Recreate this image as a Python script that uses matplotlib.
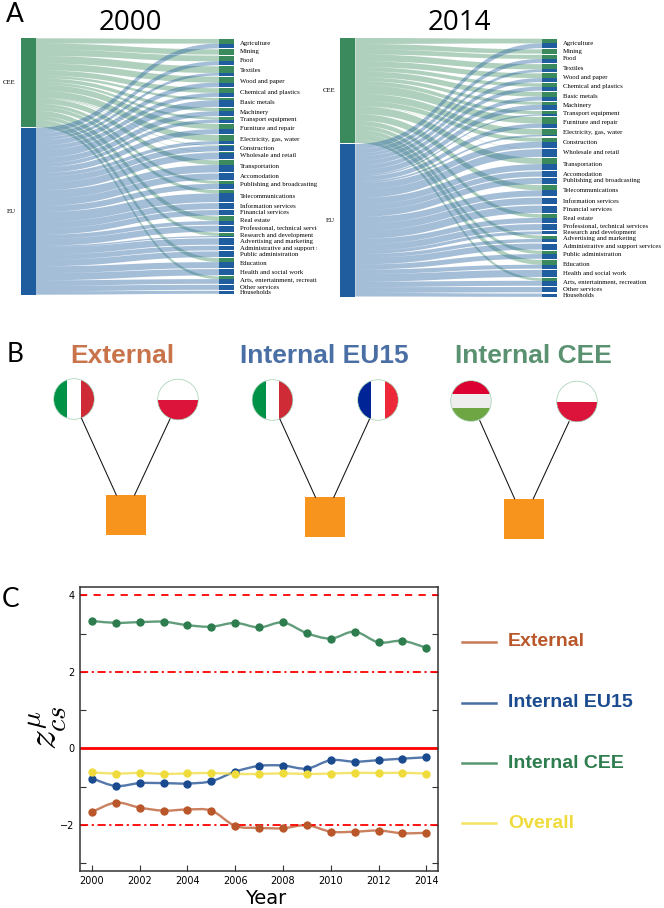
import numpy as np
import matplotlib
matplotlib.use('Agg')
import matplotlib.pyplot as plt
from matplotlib.patches import Rectangle, Ellipse, PathPatch
from matplotlib.path import Path
from matplotlib.transforms import Bbox, TransformedBbox

plt.rcParams['mathtext.fontset'] = 'cm'

sectors = ['Agriculture', 'Mining', 'Food', 'Textiles', 'Wood and paper', 'Chemical and plastics',
           'Basic metals', 'Machinery', 'Transport equipment', 'Furniture and repair',
           'Electricity, gas, water', 'Construction', 'Wholesale and retail', 'Transportation',
           'Accomodation', 'Publishing and broadcasting', 'Telecommunications', 'Information services',
           'Financial services', 'Real estate', 'Professional, technical services',
           'Research and development', 'Advertising and marketing', 'Administrative and support services',
           'Public administration', 'Education', 'Health and social work',
           'Arts, entertainment, recreation', 'Other services', 'Households']
cee_2000 = [4.6, 5.3, 5.7, 6.7, 6.0, 4.7, 2.3, 3.3, 2.3, 5.3, 6.0, 0.6, 0.4, 4.6, 0, 3.0, 3.3, 0, 0, 4.6,
            0, 3.3, 0, 0, 0, 4.0, 0, 2.7, 0, 0]
eu_2000 = [4.7, 0, 4.0, 2.6, 4.6, 4.0, 6.7, 5.0, 3.3, 5.0, 3.3, 5.4, 6.6, 7.4, 6.4, 5.3, 8.7, 6.0, 5.3, 3.7,
           6.0, 1.3, 6.4, 4.7, 5.7, 6.0, 6.3, 4.7, 5.0, 3.0]
cee_2014 = [4.7, 4.3, 4.0, 5.3, 4.7, 3.3, 4.7, 3.0, 3.3, 6.7, 5.7, 4.0, 0.3, 6.0, 0, 0, 5.3, 0, 0, 3.7,
            0, 0, 3.3, 0, 3.3, 4.7, 0, 2.6, 0, 0]
eu_2014 = [4.7, 0, 4.0, 2.7, 4.0, 4.0, 4.0, 5.0, 1.3, 4.3, 1.7, 6.0, 7.6, 6.0, 5.3, 6.0, 6.0, 6.7, 7.3, 5.0,
           6.0, 3.0, 3.4, 6.0, 4.7, 4.0, 7.0, 5.0, 5.3, 3.3]
nodes_2000 = [89, 167]
nodes_2014 = [105, 152.5]

years = list(range(2000, 2015))
z_external = [-1.66, -1.42, -1.55, -1.63, -1.60, -1.63, -2.03, -2.08, -2.09, -2.01, -2.18, -2.18, -2.15, -2.22, -2.21]
z_eu15 = [-0.79, -0.985, -0.91, -0.91, -0.92, -0.86, -0.61, -0.46, -0.45, -0.53, -0.31, -0.35, -0.31, -0.27, -0.235]
z_cee = [3.33, 3.28, 3.30, 3.31, 3.22, 3.18, 3.28, 3.16, 3.29, 3.01, 2.87, 3.05, 2.77, 2.81, 2.63]
z_overall = [-0.63, -0.66, -0.645, -0.67, -0.655, -0.645, -0.67, -0.67, -0.655, -0.67, -0.66, -0.64, -0.645, -0.64, -0.66]

GREEN = '#3a8a5d'
BLUE = '#1f5d9f'
W, H = 664, 908
fig = plt.figure(figsize=(W / 100, H / 100), dpi=100)
ov = fig.add_axes([0, 0, 1, 1])
ov.set_xlim(0, W)
ov.set_ylim(H, 0)
ov.axis('off')


def ribbons(x0, x1, bands, color):
    # one compound path per colour, so that neighbouring ribbons leave no seam
    s = np.linspace(0, 1, 70)
    xm = (x0 + x1) / 2
    b = lambda a, c: (1-s)**3*a + 3*(1-s)**2*s*a + 3*(1-s)*s**2*c + s**3*c
    x = (1-s)**3*x0 + 3*(1-s)**2*s*xm + 3*(1-s)*s**2*xm + s**3*x1
    verts, codes = [], []
    for top0, bot0, top1, bot1 in bands:
        xx = np.r_[x, x[::-1], x[0]]
        yy = np.r_[b(top0, top1), b(bot0, bot1)[::-1], top0]
        verts.append(np.column_stack([xx, yy]))
        codes += [Path.MOVETO] + [Path.LINETO] * (len(xx) - 2) + [Path.CLOSEPOLY]
    ov.add_patch(PathPatch(Path(np.vstack(verts), codes), fc=color, alpha=0.4, lw=0))


def sankey(cee, eu, nodes, xl, xr, top, gap, node_gap, clip_x=None):
    nw = 15
    cee, eu = np.array(cee, float), np.array(eu, float)
    sc, se = nodes[0] / cee.sum(), nodes[1] / eu.sum()
    y0c, y0e = top, top + nodes[0] + node_gap
    ov.add_patch(Rectangle((xl, y0c), nw, nodes[0], fc=GREEN, lw=0))
    ov.add_patch(Rectangle((xl, y0e), nw, nodes[1], fc=BLUE, lw=0))
    ov.text(xl - 5, y0c + nodes[0] / 2, 'CEE', ha='right', va='center', family='Liberation Serif', fontsize=4.9)
    ov.text(xl - 5, y0e + nodes[1] / 2, 'EU', ha='right', va='center', family='Liberation Serif', fontsize=4.9)
    y = top + 0.7
    rows = []
    for c, e in zip(cee, eu):
        rows.append((y, c, e))
        y += c + e + gap
    # green ribbons go under the blue ones
    bands, ly = [], y0c
    for yy, c, e in rows:
        if c > 0:
            bands.append((ly, ly + c * sc, yy, yy + c))
            ly += c * sc
    ribbons(xl + nw, xr, bands, GREEN)
    bands, ly = [], y0e
    for yy, c, e in rows:
        if e > 0:
            bands.append((ly, ly + e * se, yy + c, yy + c + e))
            ly += e * se
    ribbons(xl + nw, xr, bands, BLUE)
    for (yy, c, e), name in zip(rows, sectors):
        ov.add_patch(Rectangle((xr, yy), nw, c, fc=GREEN, lw=0))
        ov.add_patch(Rectangle((xr, yy + c), nw, e, fc=BLUE, lw=0))
        t = ov.text(xr + 21, yy + (c + e) / 2, name, va='center', family='Liberation Serif', fontsize=4.9)
        if clip_x:
            t.set_clip_box(TransformedBbox(Bbox([[xr, 0], [clip_x, H]]), ov.transData))
            t.set_clip_on(True)


sankey(cee_2000, eu_2000, nodes_2000, 20.5, 219, 38.3, 1.0, 0.4, clip_x=317)
sankey(cee_2014, eu_2014, nodes_2014, 340.3, 542, 38, 1.24, 1.0)

ov.text(130, 23, '2000', ha='center', va='center', family='Open Sans', fontsize=20)
ov.text(459, 23, '2014', ha='center', va='center', family='Open Sans', fontsize=20)
ov.text(15, 14.5, 'A', ha='center', va='center', family='Lato', fontsize=19)
ov.text(15, 355, 'B', ha='center', va='center', family='Lato', fontsize=19)
ov.text(10.5, 599.5, 'C', ha='center', va='center', family='Lato', fontsize=19)

# panel B
ITALY = ['v', '#009246', '#ffffff', '#ce2b37']
POLAND = ['h', '#ffffff', '#dc143c']
FRANCE = ['v', '#002395', '#ffffff', '#ed2939']
HUNGARY = ['h', '#dc0032', '#eeeeee', '#6ea644']


def flag(cx, cy, spec):
    kind, cols = spec[0], spec[1:]
    r = 20.3
    clip = Ellipse((cx, cy), 2 * r, 2 * r, fc='none', ec='none', transform=ov.transData)
    ov.add_patch(clip)
    n = len(cols)
    for i, c in enumerate(cols):
        if kind == 'v':
            p = Rectangle((cx - r + i * 2 * r / n, cy - r), 2 * r / n, 2 * r, fc=c, lw=0)
        else:
            p = Rectangle((cx - r, cy - r + i * 2 * r / n), 2 * r, 2 * r / n, fc=c, lw=0)
        ov.add_patch(p)
        p.set_clip_path(clip)
    ov.add_patch(Ellipse((cx, cy), 2 * r, 2 * r, fc='none', ec='#9fcfb0', lw=0.5))


groups = [('External', '#c8734a', 122, (74, 399, ITALY), (178, 399.5, POLAND), (106, 495),
           [(81.5, 418.3, 116.3, 495), (170, 419, 134.6, 495)]),
          ('Internal EU15', '#4a6fa5', 324, (272.5, 400, ITALY), (378, 400, FRANCE), (305, 497),
           [(280, 419.3, 315.5, 497.3), (369.4, 419.3, 333.8, 497.3)]),
          ('Internal CEE', '#5a9170', 533, (471, 401, HUNGARY), (577, 401.5, POLAND), (504, 498.7),
           [(479.8, 420.7, 514.6, 498.7), (569, 421.7, 533.3, 498.7)])]
for name, col, tx, fa, fb, sq, lines in groups:
    ov.text(tx, 356, name, ha='center', va='center', color=col, family='Liberation Sans',
            weight='bold', fontsize=19)
    for a, b, c, d in lines:
        ov.plot([a, c], [b, d], color='#111111', lw=0.75)
    flag(*fa)
    flag(*fb)
    ov.add_patch(Rectangle(sq, 40, 40, fc='#f7941e', lw=0))

# panel C
ax = fig.add_axes([80 / W, 1 - 870.7 / H, (438.3 - 80) / W, (870.7 - 587.3) / H])
ax.set_xlim(1999.5, 2014.5)
ax.set_ylim(-3.2, 4.21)
ax.axhline(0, color='red', lw=2)
ax.axhline(4, color='red', lw=1.3, ls=(0, (4, 3.5)))
for v in (2, -2):
    ax.axhline(v, color='red', lw=1.3, ls=(0, (4.5, 2, 1.2, 2)))


def smooth_line(xs, ys, color):
    p = np.column_stack([xs, ys]).astype(float)
    verts, codes = [p[0]], [Path.MOVETO]
    for i in range(len(p) - 1):
        m0 = (p[i + 1] - p[i - 1]) / 2 if i > 0 else p[1] - p[0]
        m1 = (p[i + 2] - p[i]) / 2 if i < len(p) - 2 else p[-1] - p[-2]
        verts += [p[i] + m0 / 3, p[i + 1] - m1 / 3, p[i + 1]]
        codes += [Path.CURVE4] * 3
    ax.add_patch(PathPatch(Path(verts, codes), fc='none', ec=color, lw=1.7, alpha=0.75))


series = [(z_external, '#b9572a', 'External'), (z_eu15, '#1b4b8f', 'Internal EU15'),
          (z_cee, '#2e7d4f', 'Internal CEE'), (z_overall, '#efdc3c', 'Overall')]
for vals, col, name in series:
    smooth_line(years, vals, col)
    ax.plot(years, vals, 'o', color=col, ms=6, mew=0, zorder=3)

ax.set_xticks(range(2000, 2015, 2))
ax.set_yticks([-2, 0, 2, 4])
ax.set_yticks([-3, -1, 1, 3], minor=True)
ax.tick_params(which='both', direction='in', right=True, length=4, width=0.8, color='#333333', labelsize=7, pad=4)
for s in ax.spines.values():
    s.set_linewidth(1.1)
    s.set_color('#333333')
ax.set_xlabel('Year', fontsize=14, x=0.517, labelpad=2)

ov.set_zorder(2)
ov.text(48, 728, r'$z^{\mu}_{cs}$', rotation=90, ha='center', va='center', fontsize=29)
for (vals, col, name), y in zip(series, (641.5, 702.5, 763, 823)):
    ov.plot([462, 496], [y, y], color=col, lw=1.8, alpha=0.8)
    ov.text(508, y, name, va='center', color=col, family='Liberation Sans', weight='bold', fontsize=14)

fig.savefig('out.png', dpi=100)
